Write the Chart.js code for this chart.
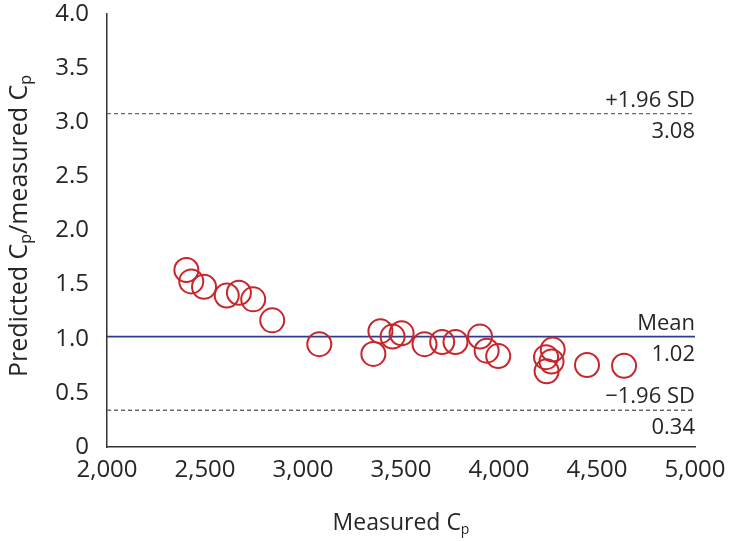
<!DOCTYPE html>
<html>
<head>
<meta charset="utf-8">
<script src="https://cdn.jsdelivr.net/npm/chart.js@4.4.1/dist/chart.umd.min.js"></script>
<style>
html,body{margin:0;padding:0;background:#fff;}
#wrap{width:729px;height:541px;position:relative;}
</style>
</head>
<body>
<div id="wrap"><canvas id="c" width="729" height="541"></canvas></div>
<script>
// Data
const measuredCp = [2405, 2430, 2495, 2611, 2673, 2746, 2843, 3083, 3359, 3395, 3457, 3503, 3620, 3710, 3778, 3903, 3937, 3996, 4240, 4243, 4268, 4274, 4449, 4638];
const ratioCp = [1.635, 1.53, 1.48, 1.40, 1.425, 1.364, 1.17, 0.95, 0.86, 1.07, 1.02, 1.05, 0.95, 0.97, 0.97, 1.02, 0.89, 0.84, 0.83, 0.70, 0.79, 0.90, 0.757, 0.75];
const refNames = ['+1.96 SD', 'Mean', '\u22121.96 SD'];
const refValues = [3.08, 1.02, 0.34];
const refValueLabels = ['3.08', '1.02', '0.34'];
const xTicks = [2000, 2500, 3000, 3500, 4000, 4500, 5000];
const yTicks = [0, 0.5, 1.0, 1.5, 2.0, 2.5, 3.0, 3.5, 4.0];
const xRange = [2000, 5000];

const FONT = '"Open Sans", "Noto Sans", sans-serif';
const TXT = '#262626';

const points = measuredCp.map((x, i) => ({x: x, y: ratioCp[i]}));
const refSets = refValues.map((v, i) => ({
  type: 'line',
  data: [{x: xRange[0], y: v}, {x: xRange[1], y: v}],
  borderColor: i === 1 ? '#2e3b8f' : '#6a6a6a',
  borderWidth: i === 1 ? 1.6 : 1.4,
  borderDash: i === 1 ? [] : [4, 3],
  pointRadius: 0,
  order: 2
}));

const annot = {
  id: 'annot',
  afterDatasetsDraw(chart) {
    const ctx = chart.ctx, xs = chart.scales.x, ys = chart.scales.y;
    const xr = xs.getPixelForValue(xRange[1]);
    ctx.save();
    ctx.fillStyle = TXT;
    ctx.font = '22px ' + FONT;
    ctx.textAlign = 'right';
    ctx.textBaseline = 'alphabetic';
    refValues.forEach((v, i) => {
      const y = ys.getPixelForValue(v);
      ctx.fillText(refNames[i], xr, y - 7);
      ctx.fillText(refValueLabels[i], xr, y + 24);
    });
    ctx.restore();
  },
  afterDraw(chart) {
    const ctx = chart.ctx, ca = chart.chartArea;
    ctx.save();
    ctx.fillStyle = TXT;
    function drawSub(parts, cx, cy, rot, size) {
      const sub = Math.round(size * 0.62);
      ctx.save();
      ctx.translate(cx, cy);
      ctx.rotate(rot);
      let total = 0;
      parts.forEach(p => { ctx.font = (p.sub ? sub : size) + 'px ' + FONT; total += ctx.measureText(p.t).width; });
      let x = -total / 2;
      ctx.textAlign = 'left';
      ctx.textBaseline = 'alphabetic';
      parts.forEach(p => {
        ctx.font = (p.sub ? sub : size) + 'px ' + FONT;
        ctx.fillText(p.t, x, p.sub ? 4 : 0);
        x += ctx.measureText(p.t).width;
      });
      ctx.restore();
    }
    drawSub([{t: 'Measured C'}, {t: 'p', sub: true}], (ca.left + ca.right) / 2, 530, 0, 23);
    drawSub([{t: 'Predicted C'}, {t: 'p', sub: true}, {t: '/measured C'}, {t: 'p', sub: true}], 27, 226, -Math.PI / 2, 25);
    ctx.restore();
  }
};

new Chart(document.getElementById('c'), {
  type: 'scatter',
  data: {
    datasets: [{
      data: points,
      pointRadius: 12,
      pointHoverRadius: 12,
      pointBackgroundColor: 'rgba(0,0,0,0)',
      pointBorderColor: '#c8262c',
      pointBorderWidth: 2,
      order: 1
    }].concat(refSets)
  },
  options: {
    responsive: false,
    animation: false,
    events: [],
    layout: {padding: {top: 14, right: 34, left: 0, bottom: 0}},
    plugins: {legend: {display: false}, tooltip: {enabled: false}},
    scales: {
      x: {
        type: 'linear', min: xRange[0], max: xRange[1],
        afterFit(s) { s.height = 94; s.paddingLeft = 0; s.paddingRight = 0; },
        afterBuildTicks(s) { s.ticks = xTicks.map(v => ({value: v})); },
        grid: {display: false, drawTicks: true, tickLength: 8, tickColor: '#333', drawOnChartArea: false},
        border: {display: true, color: '#333', width: 1.5},
        ticks: {color: TXT, font: {size: 24, family: FONT}, padding: 1, maxRotation: 0,
          callback: v => v.toLocaleString('en-US')}
      },
      y: {
        type: 'linear', min: 0, max: 4,
        afterFit(s) { s.width = 107; s.paddingTop = 0; s.paddingBottom = 0; },
        afterBuildTicks(s) { s.ticks = yTicks.map(v => ({value: v})); },
        grid: {display: false, drawTicks: true, tickLength: 10, tickColor: '#333', drawOnChartArea: false},
        border: {display: true, color: '#333', width: 1.5},
        ticks: {color: TXT, font: {size: 24, family: FONT}, padding: 8,
          callback: v => v === 0 ? '0' : v.toFixed(1)}
      }
    }
  },
  plugins: [annot]
});
</script>
</body>
</html>
